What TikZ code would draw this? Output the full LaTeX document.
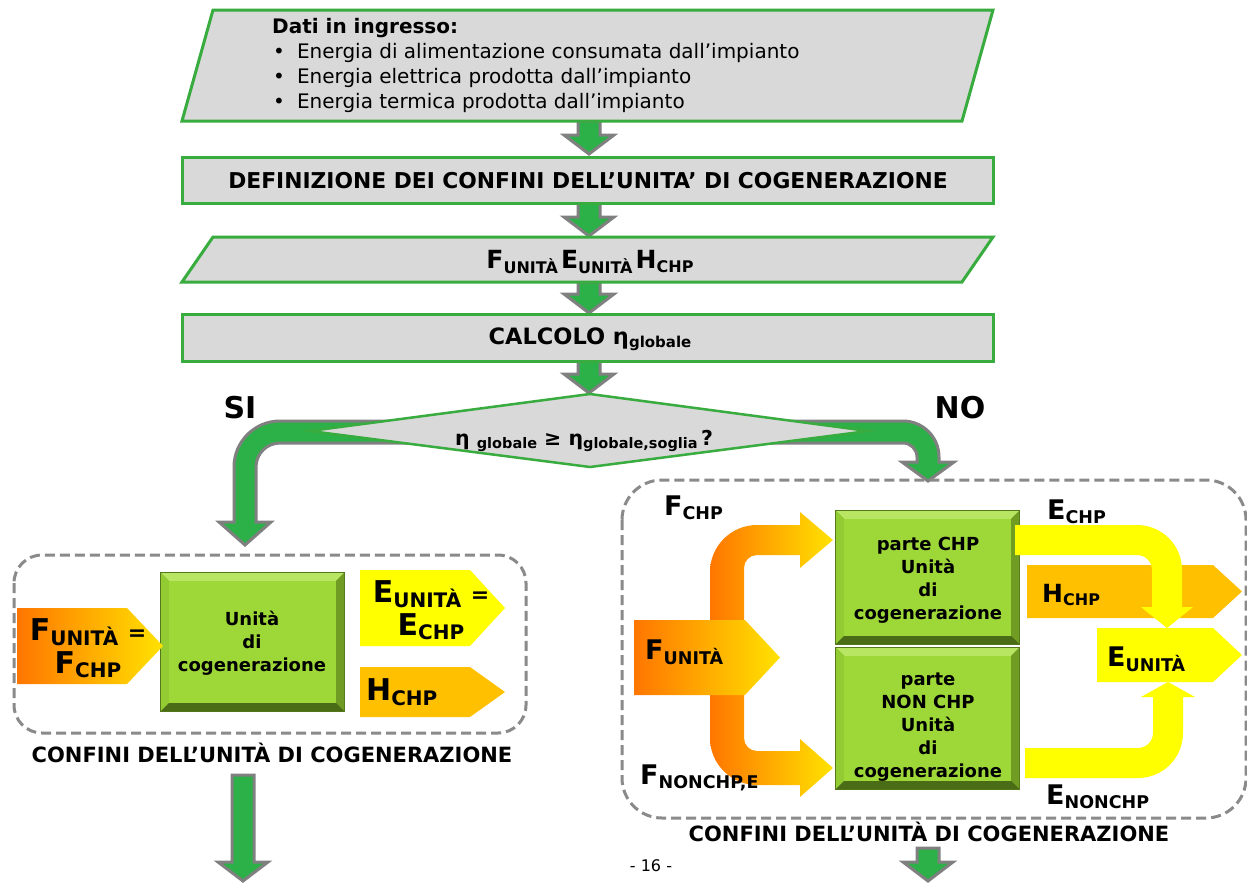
\documentclass[tikz,border=0pt]{standalone}
\usepackage{fontspec}
\setmainfont{DejaVu Sans}
\usetikzlibrary{calc}

\definecolor{boxgreen}{RGB}{56,172,62}
\definecolor{boxgrey}{RGB}{217,217,217}
\definecolor{arrgreen}{RGB}{44,176,72}
\definecolor{arrgrey}{RGB}{128,128,128}
\definecolor{dashgrey}{RGB}{138,138,138}
\definecolor{unitgreen}{RGB}{158,216,56}
\definecolor{bevlight}{RGB}{184,230,98}
\definecolor{bevside}{RGB}{146,204,50}
\definecolor{bevdark}{RGB}{112,156,36}
\definecolor{bevdarker}{RGB}{84,120,26}
\definecolor{flowyellow}{RGB}{255,255,0}
\definecolor{flowgold}{RGB}{255,192,0}
\definecolor{floworange}{RGB}{255,118,0}
\definecolor{flowamber}{RGB}{255,226,0}

\tikzset{
  procbox/.style={draw=boxgreen, line width=3bp, fill=boxgrey, line join=miter},
  flowarrow/.style={draw=arrgrey, line width=3bp, fill=arrgreen, line join=miter},
  boundary/.style={draw=dashgrey, line width=3bp, dash pattern=on 10bp off 5bp},
  orangeflow/.style={left color=floworange, right color=flowamber},
  txt/.style={inner sep=0pt, text=black},
}

% straight block arrow between two named points
\newcommand{\blockarrow}[2]{%
  \filldraw[flowarrow] ($(#1)+(-11,0)$) -- ($(#1)+(11,0)$) -- ($(#2)+(11,-19)$)
    -- ($(#2)+(25,-19)$) -- (#2) -- ($(#2)+(-25,-19)$) -- ($(#2)+(-11,-19)$) -- cycle;}

% bevelled green block: x1 y1 x2 y2
\newcommand{\unitblock}[4]{%
  \fill[bevdarker] (#1,#2) rectangle (#3,#4);
  \fill[bevlight] (#1+1,#2+1) -- (#3-1,#2+1) -- (#3-9,#2+9) -- (#1+9,#2+9) -- cycle;
  \fill[bevside] (#1+1,#2+1) -- (#1+9,#2+9) -- (#1+9,#4-9) -- (#1+1,#4-1) -- cycle;
  \fill[bevdark] (#3-1,#2+1) -- (#3-1,#4-1) -- (#3-9,#4-9) -- (#3-9,#2+9) -- cycle;
  \fill[bevdarker!90!black] (#1+1,#4-1) -- (#3-1,#4-1) -- (#3-9,#4-9) -- (#1+9,#4-9) -- cycle;
  \fill[unitgreen] (#1+9,#2+9) rectangle (#3-9,#4-9);}

% pentagon arrow: x1 y1 notch-x tip-x y2
\newcommand{\pentarrow}[6]{%
  \path[#6] (#1,#2) -- (#3,#2) -- (#4,{(#2+#5)/2}) -- (#3,#5) -- (#1,#5) -- cycle;}

% quantity with subscript: main size, subscript size, text, subscript
\newcommand{\flowqty}[4]{{\fontsize{#1bp}{#1bp}\selectfont\bfseries #3}{\fontsize{#2bp}{#2bp}\selectfont\bfseries\raisebox{-0.3\height}{#4}}}
\newcommand{\bigqty}[2]{\flowqty{30}{20}{#1}{#2}}
\newcommand{\midqty}[2]{\flowqty{27}{17.5}{#1}{#2}}
\newcommand{\smallqty}[2]{\flowqty{25}{16}{#1}{#2}}

\begin{document}
\begin{tikzpicture}[x=1bp,y=-1bp]
\useasboundingbox (0,0) rectangle (1247,883);
\fill[white] (0,0) rectangle (1247,883);

% ---------- main flow ----------
\coordinate (a1s) at (589,121); \coordinate (a1e) at (589,154);
\coordinate (a2s) at (589,203); \coordinate (a2e) at (589,236);
\coordinate (a3s) at (589,282); \coordinate (a3e) at (589,313);
\coordinate (a4s) at (589,361); \coordinate (a4e) at (589,393);
\blockarrow{a1s}{a1e}
\blockarrow{a2s}{a2e}
\blockarrow{a3s}{a3e}
\blockarrow{a4s}{a4e}

\filldraw[procbox] (213,10) -- (993,10) -- (962,121) -- (182,121) -- cycle;
\node[txt, anchor=west, font=\fontsize{20bp}{20bp}\selectfont\bfseries] (dati) at (272,28) {Dati in ingresso:};
\node[txt, anchor=west, font=\fontsize{20bp}{20bp}\selectfont] (dat1) at (273,53) {•\hspace{12bp}Energia di alimentazione consumata dall’impianto};
\node[txt, anchor=west, font=\fontsize{20bp}{20bp}\selectfont] (dat2) at (273,78) {•\hspace{12bp}Energia elettrica prodotta dall’impianto};
\node[txt, anchor=west, font=\fontsize{20bp}{20bp}\selectfont] (dat3) at (273,103) {•\hspace{12bp}Energia termica prodotta dall’impianto};

\filldraw[procbox] (182,157) rectangle (993,203);
\node[txt, font=\fontsize{21.8bp}{21.8bp}\selectfont\bfseries] (def) at (588,181) {DEFINIZIONE DEI CONFINI DELL’UNITA’ DI COGENERAZIONE};

\filldraw[procbox] (213,237) -- (993,237) -- (962,282) -- (182,282) -- cycle;
\node[txt] (qty) at (590,262) {\smallqty{F}{UNITÀ} \smallqty{E}{UNITÀ} \smallqty{H}{CHP}};

\filldraw[procbox] (182,314) rectangle (993,361);
\node[txt] (calc) at (590,339) {\flowqty{22.5}{15}{CALCOLO η}{globale}};

% ---------- decision branches ----------
\filldraw[flowarrow] (430,421) -- (280,421) arc[start angle=270,end angle=180,radius=46]
  -- (234,522) -- (219,522) -- (245,545) -- (271,522) -- (256,522) -- (256,467)
  arc[start angle=180,end angle=270,radius=24] -- (430,443) -- cycle;
\filldraw[flowarrow] (760,421) -- (903,421) arc[start angle=270,end angle=360,radius=36]
  -- (939,462) -- (954,462) -- (928,481) -- (902,462) -- (917,462) -- (917,457)
  arc[start angle=0,end angle=-90,radius=14] -- (760,443) -- cycle;

\filldraw[procbox, line width=2.5bp] (590,394) -- (868,431) -- (590,467) -- (310,431) -- cycle;
\node[txt] (cond) at (584,441) {\flowqty{20.5}{14.5}{η }{globale}{\fontsize{20.5bp}{20.5bp}\selectfont\bfseries\ ≥ }\flowqty{20.5}{14.5}{η}{globale,soglia}{\fontsize{20.5bp}{20.5bp}\selectfont\bfseries\,?}};
\node[txt, font=\fontsize{30bp}{30bp}\selectfont\bfseries] (si) at (240,408) {SI};
\node[txt, font=\fontsize{30bp}{30bp}\selectfont\bfseries] (no) at (960,408) {NO};

% ---------- left: whole unit is CHP ----------
\draw[boundary, rounded corners=28bp] (14,555) rectangle (526,733);
\unitblock{160}{572}{345}{712}
\node[txt, align=center, font=\fontsize{18bp}{23bp}\selectfont\bfseries] (unit1) at (252,643) {Unità\\di\\cogenerazione};
\pentarrow{17}{608}{127}{163}{684}{orangeflow}
\node[txt, align=center, font=\fontsize{30bp}{33bp}\selectfont] (fin1) at (88,648) {\bigqty{F}{UNITÀ} {\fontsize{22bp}{22bp}\selectfont\bfseries =}\\\bigqty{F}{CHP}};
\pentarrow{360}{570}{470}{505}{646}{fill=flowyellow}
\node[txt, align=center, font=\fontsize{30bp}{33bp}\selectfont] (eout1) at (431,610) {\bigqty{E}{UNITÀ} {\fontsize{22bp}{22bp}\selectfont\bfseries =}\\\bigqty{E}{CHP}};
\pentarrow{360}{667}{470}{505}{717}{fill=flowgold}
\node[txt, anchor=west] (hout1) at (366,692) {\bigqty{H}{CHP}};
\node[txt, font=\fontsize{21bp}{21bp}\selectfont\bfseries] (conf1) at (272,753) {CONFINI DELL’UNITÀ DI COGENERAZIONE};
\coordinate (a5s) at (243,775); \coordinate (a5e) at (243,881);
\blockarrow{a5s}{a5e}

% ---------- right: unit split into CHP and non-CHP parts ----------
\draw[boundary, rounded corners=40bp] (622,480) rectangle (1246,818);

\shade[orangeflow] (710,640) -- (710,572) arc[start angle=180,end angle=270,radius=47]
  -- (800,525) -- (800,512) -- (833,540) -- (800,568) -- (800,555) -- (757,555)
  arc[start angle=270,end angle=180,radius=13] -- (744,640) -- cycle;
\shade[orangeflow] (710,680) -- (710,738) arc[start angle=180,end angle=90,radius=47]
  -- (800,785) -- (800,797) -- (833,768) -- (800,739) -- (800,751) -- (757,751)
  arc[start angle=90,end angle=180,radius=13] -- (744,680) -- cycle;
\pentarrow{634}{620}{745}{780}{695}{orangeflow}
\node[txt, anchor=west] (fin2) at (645,652) {\midqty{F}{UNITÀ}};

\unitblock{835}{510}{1020}{645}
\unitblock{835}{647}{1020}{790}
\node[txt, align=center, font=\fontsize{18bp}{23bp}\selectfont\bfseries] (chp) at (928,580) {parte CHP\\Unità\\di\\cogenerazione};
\node[txt, align=center, font=\fontsize{18bp}{23bp}\selectfont\bfseries] (nonchp) at (928,727) {parte\\NON CHP\\Unità\\di\\cogenerazione};

\pentarrow{1027}{565}{1213}{1242}{618}{fill=flowgold}
\node[txt, anchor=west] (hout2) at (1042,595) {\smallqty{H}{CHP}};
\fill[flowyellow] (1015,525) -- (1137,525) arc[start angle=270,end angle=360,radius=45]
  -- (1182,607) -- (1193,607) -- (1167,628) -- (1141,607) -- (1152,607) -- (1152,570)
  arc[start angle=0,end angle=-90,radius=15] -- (1015,555) -- cycle;
\pentarrow{1097}{628}{1213}{1242}{682}{fill=flowyellow}
\node[txt, anchor=west] (eout2) at (1107,659) {\midqty{E}{UNITÀ}};
\fill[flowyellow] (1025,778) -- (1138,778) arc[start angle=90,end angle=0,radius=45]
  -- (1183,697) -- (1195,697) -- (1168,682) -- (1141,697) -- (1153,697) -- (1153,733)
  arc[start angle=0,end angle=90,radius=15] -- (1138,748) -- (1025,748) -- cycle;

\node[txt, anchor=west] (fchp) at (664,508) {\midqty{F}{CHP}};
\node[txt, anchor=west] (echp) at (1047,512) {\midqty{E}{CHP}};
\node[txt, anchor=west] (fnon) at (640,778) {\midqty{F}{NONCHP,E}};
\node[txt, anchor=west] (enon) at (1046,797) {\midqty{E}{NONCHP}};

\node[txt, font=\fontsize{21bp}{21bp}\selectfont\bfseries] (conf2) at (929,832) {CONFINI DELL’UNITÀ DI COGENERAZIONE};
\coordinate (a6s) at (928,848); \coordinate (a6e) at (928,881);
\blockarrow{a6s}{a6e}

\node[txt, font=\fontsize{16bp}{16bp}\selectfont] (page) at (651,866) {- 16 -};
\end{tikzpicture}
\end{document}
